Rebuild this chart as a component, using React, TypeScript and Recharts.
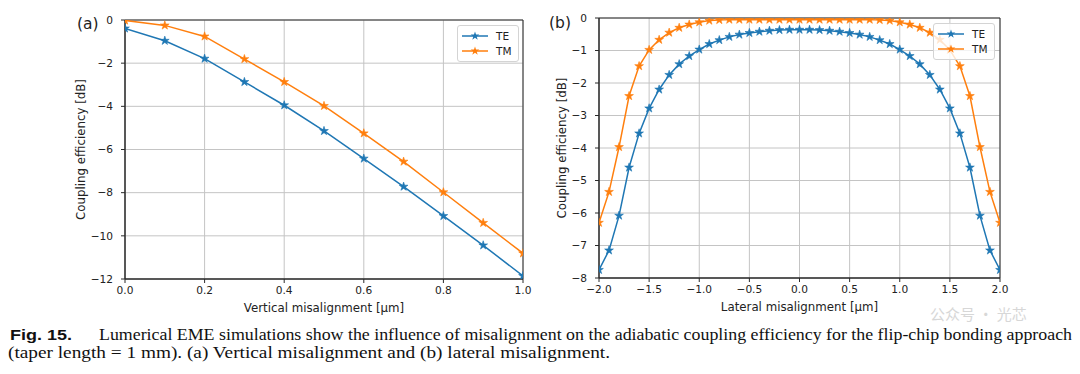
import {
  LineChart,
  Line,
  XAxis,
  YAxis,
  CartesianGrid,
  Legend,
  ReferenceArea,
  Label,
} from "recharts";

// (a) vertical misalignment
const vertX = [0, 0.1, 0.2, 0.3, 0.4, 0.5, 0.6, 0.7, 0.8, 0.9, 1.0];
const vertTE = [-0.39, -0.96, -1.79, -2.87, -3.95, -5.14, -6.42, -7.72, -9.08, -10.44, -11.86];
const vertTM = [-0.02, -0.25, -0.76, -1.81, -2.87, -3.98, -5.25, -6.56, -7.98, -9.4, -10.81];
const vertXTicks = [0, 0.2, 0.4, 0.6, 0.8, 1.0];
const vertYTicks = [-12, -10, -8, -6, -4, -2, 0];

// (b) lateral misalignment
const latX = [
  -2.0, -1.9, -1.8, -1.7, -1.6, -1.5, -1.4, -1.3, -1.2, -1.1, -1.0, -0.9, -0.8, -0.7,
  -0.6, -0.5, -0.4, -0.3, -0.2, -0.1, 0, 0.1, 0.2, 0.3, 0.4, 0.5, 0.6, 0.7, 0.8, 0.9,
  1.0, 1.1, 1.2, 1.3, 1.4, 1.5, 1.6, 1.7, 1.8, 1.9, 2.0,
];
const latTE = [
  -7.75, -7.15, -6.08, -4.6, -3.55, -2.78, -2.2, -1.75, -1.42, -1.17, -0.97, -0.8, -0.68,
  -0.58, -0.51, -0.46, -0.42, -0.39, -0.37, -0.36, -0.36, -0.36, -0.37, -0.39, -0.42,
  -0.46, -0.51, -0.58, -0.68, -0.8, -0.97, -1.17, -1.42, -1.75, -2.2, -2.78, -3.55, -4.6,
  -6.08, -7.15, -7.75,
];
const latTM = [
  -6.3, -5.35, -3.97, -2.4, -1.48, -0.98, -0.67, -0.45, -0.3, -0.2, -0.13, -0.08, -0.06,
  -0.05, -0.05, -0.05, -0.05, -0.05, -0.05, -0.05, -0.05, -0.05, -0.05, -0.05, -0.05,
  -0.05, -0.05, -0.05, -0.06, -0.08, -0.13, -0.2, -0.3, -0.45, -0.67, -0.98, -1.48, -2.4,
  -3.97, -5.35, -6.3,
];
const latXTicks = [-2, -1.5, -1, -0.5, 0, 0.5, 1, 1.5, 2];
const latYTicks = [-8, -7, -6, -5, -4, -3, -2, -1, 0];

const TE_COLOR = "#1f77b4";
const TM_COLOR = "#ff7f0e";
const FONT = "'DejaVu Sans', sans-serif";

const vertData = vertX.map((x, i) => ({ x, te: vertTE[i], tm: vertTM[i] }));
const latData = latX.map((x, i) => ({ x, te: latTE[i], tm: latTM[i] }));

const minus = (s: string) => s.replace("-", "\u2212");

function starPoints(cx: number, cy: number, r: number) {
  const pts: string[] = [];
  for (let i = 0; i < 10; i++) {
    const rad = i % 2 === 0 ? r : r * 0.382;
    const a = -Math.PI / 2 + (i * Math.PI) / 5;
    pts.push(`${(cx + rad * Math.cos(a)).toFixed(2)},${(cy + rad * Math.sin(a)).toFixed(2)}`);
  }
  return pts.join(" ");
}

const starDot = (color: string) => (props: any) => {
  const { cx, cy, index } = props;
  if (cx == null || cy == null) return <g key={index} />;
  return (
    <polygon
      key={index}
      points={starPoints(cx, cy, 4.6)}
      fill={color}
      stroke={color}
      strokeWidth={0.6}
    />
  );
};

function StarLegend({ payload }: { payload?: Array<{ value: string; color: string }> }) {
  if (!payload) return null;
  return (
    <div
      style={{
        border: "1px solid #d4d4d4",
        borderRadius: 3,
        background: "rgba(255,255,255,0.8)",
        padding: "2px 0 3px 4px",
        fontFamily: FONT,
        fontSize: 10.5,
        color: "#222",
        boxSizing: "border-box",
      }}
    >
      {payload.map((p) => (
        <div key={p.value} style={{ display: "flex", alignItems: "center", height: 15 }}>
          <svg width={26} height={12}>
            <line x1={0} y1={6} x2={26} y2={6} stroke={p.color} strokeWidth={1.5} />
            <polygon points={starPoints(13, 6, 4.6)} fill={p.color} />
          </svg>
          <span style={{ marginLeft: 8 }}>{p.value}</span>
        </div>
      ))}
    </div>
  );
}

const tickStyle = { fontFamily: FONT, fontSize: 10.6, fill: "#222" };
const labelStyle = { fontFamily: FONT, fontSize: 11.8, fill: "#222" };

const yLabel = (dx: number) => (props: any) => {
  const vb = props.viewBox;
  const x = vb.x + vb.width / 2 + dx;
  const y = vb.y + vb.height / 2;
  return (
    <text
      x={x}
      y={y}
      transform={`rotate(-90 ${x} ${y})`}
      textAnchor="middle"
      dominantBaseline="central"
      style={labelStyle}
    >
      Coupling efficiency [dB]
    </text>
  );
};

const xLabel = (text: string) => (props: any) => {
  const vb = props.viewBox;
  return (
    <text
      x={vb.x + vb.width / 2}
      y={vb.y + 29}
      textAnchor="middle"
      dominantBaseline="central"
      style={labelStyle}
    >
      {text}
    </text>
  );
};

function Panel({
  data,
  xDomain,
  yDomain,
  xTicks,
  yTicks,
  xFmt,
  xTitle,
  margin,
  yAxisWidth,
  xAxisHeight,
  yLabelDx,
  legendPos,
}: {
  data: { x: number; te: number; tm: number }[];
  xDomain: [number, number];
  yDomain: [number, number];
  xTicks: number[];
  yTicks: number[];
  xFmt: (v: number) => string;
  xTitle: string;
  margin: { top: number; right: number; bottom: number; left: number };
  yAxisWidth: number;
  xAxisHeight: number;
  yLabelDx: number;
  legendPos: { left: number; top: number };
}) {
  return (
    <LineChart width={540} height={318} data={data} margin={margin}>
      <CartesianGrid stroke="#c4c4c4" strokeWidth={1} />
      <XAxis
        type="number"
        dataKey="x"
        domain={xDomain}
        ticks={xTicks}
        tickFormatter={xFmt}
        allowDataOverflow
        height={xAxisHeight}
        tick={tickStyle}
        tickSize={4}
        tickMargin={3}
        axisLine={{ stroke: "#2a2a2a" }}
        tickLine={{ stroke: "#2a2a2a" }}
      >
        <Label content={xLabel(xTitle)} />
      </XAxis>
      <YAxis
        type="number"
        domain={yDomain}
        ticks={yTicks}
        tickFormatter={(v: number) => minus(String(v))}
        allowDataOverflow
        width={yAxisWidth}
        tick={tickStyle}
        tickSize={4}
        tickMargin={8}
        axisLine={{ stroke: "#2a2a2a" }}
        tickLine={{ stroke: "#2a2a2a" }}
      >
        <Label content={yLabel(yLabelDx)} />
      </YAxis>
      <ReferenceArea
        x1={xDomain[0]}
        x2={xDomain[1]}
        y1={yDomain[0]}
        y2={yDomain[1]}
        fill="none"
        stroke="#2a2a2a"
        strokeWidth={1}
        ifOverflow="visible"
      />
      <Legend
        layout="vertical"
        align="center"
        verticalAlign="middle"
        content={<StarLegend />}
        wrapperStyle={{ left: legendPos.left, top: legendPos.top, width: 62 }}
      />
      <Line
        name="TE"
        type="linear"
        dataKey="te"
        stroke={TE_COLOR}
        strokeWidth={1.5}
        dot={starDot(TE_COLOR)}
        activeDot={false}
        isAnimationActive={false}
      />
      <Line
        name="TM"
        type="linear"
        dataKey="tm"
        stroke={TM_COLOR}
        strokeWidth={1.5}
        dot={starDot(TM_COLOR)}
        activeDot={false}
        isAnimationActive={false}
      />
    </LineChart>
  );
}

export default function App() {
  return (
    <div
      style={{
        position: "absolute",
        left: 0,
        top: 0,
        width: 1080,
        height: 374,
        background: "#fff",
        overflow: "hidden",
      }}
    >
      <div style={{ position: "absolute", left: 0, top: 0 }}>
        <Panel
          data={vertData}
          xDomain={[0, 1]}
          yDomain={[-12, 0]}
          xTicks={vertXTicks}
          yTicks={vertYTicks}
          xFmt={(v) => v.toFixed(1)}
          xTitle="Vertical misalignment [μm]"
          margin={{ top: 20, right: 17, bottom: 0, left: 0 }}
          yAxisWidth={125}
          xAxisHeight={39}
          yLabelDx={18.5}
          legendPos={{ left: 457, top: 25 }}
        />
      </div>
      <div style={{ position: "absolute", left: 540, top: 0 }}>
        <Panel
          data={latData}
          xDomain={[-2, 2]}
          yDomain={[-8, 0]}
          xTicks={latXTicks}
          yTicks={latYTicks}
          xFmt={(v) => minus(v.toFixed(1))}
          xTitle="Lateral misalignment [μm]"
          margin={{ top: 18, right: 80, bottom: 0, left: 0 }}
          yAxisWidth={59}
          xAxisHeight={40}
          yLabelDx={-7.5}
          legendPos={{ left: 393, top: 23 }}
        />
      </div>
      <svg
        width={1080}
        height={374}
        style={{ position: "absolute", left: 0, top: 0, pointerEvents: "none" }}
      >
        <text x={77} y={24} dominantBaseline="central" fontFamily={FONT} fontSize={15.5} fill="#222">
          (a)
        </text>
        <text x={549} y={23} dominantBaseline="central" fontFamily={FONT} fontSize={15.5} fill="#222">
          (b)
        </text>
        <text
          x={930}
          y={320}
          fontFamily="'Noto Sans CJK SC', sans-serif"
          fontSize={15}
          fill="#bdbdbd"
          opacity={0.6}
        >
          公众号 · 光芯
        </text>
        <text
          x={10}
          y={340}
          fontFamily="'Liberation Sans', Arial, sans-serif"
          fontWeight="bold"
          fontSize={15}
          fill="#111"
          textLength={62}
          lengthAdjust="spacingAndGlyphs"
        >
          Fig. 15.
        </text>
        <text
          x={99}
          y={340}
          fontFamily="'Liberation Serif', serif"
          fontSize={16}
          fill="#111"
          textLength={973}
          lengthAdjust="spacingAndGlyphs"
        >
          Lumerical EME simulations show the influence of misalignment on the adiabatic coupling efficiency for the flip-chip bonding approach
        </text>
        <text
          x={8}
          y={358}
          fontFamily="'Liberation Serif', serif"
          fontSize={16}
          fill="#111"
          textLength={602}
          lengthAdjust="spacingAndGlyphs"
        >
          (taper length = 1 mm). (a) Vertical misalignment and (b) lateral misalignment.
        </text>
      </svg>
    </div>
  );
}
